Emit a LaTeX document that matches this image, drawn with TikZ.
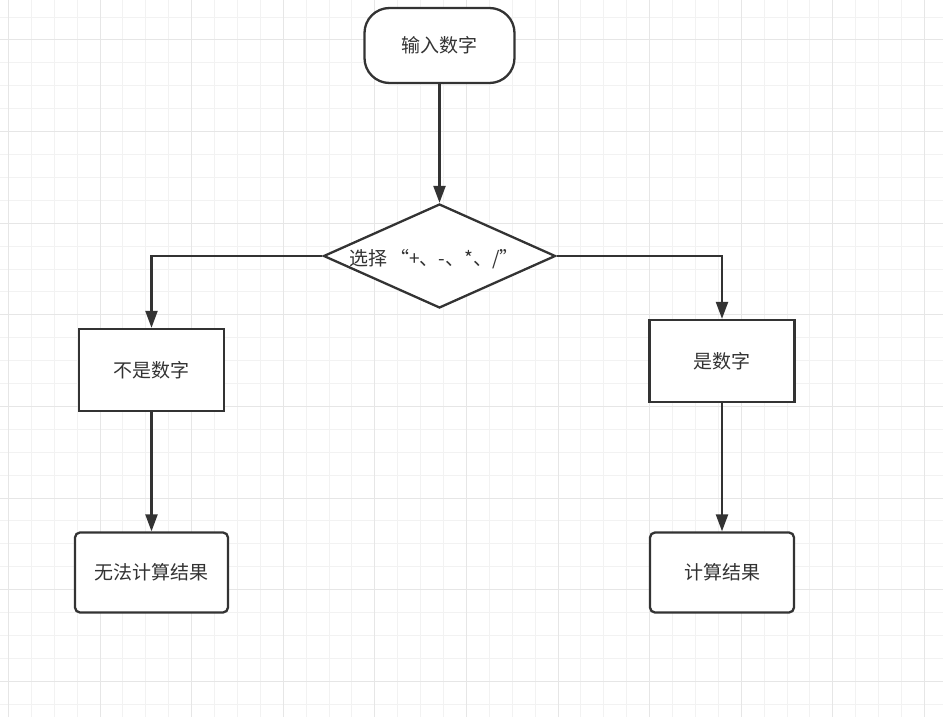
\documentclass[tikz,border=0pt]{standalone}
\usepackage{fontspec}
\newfontfamily\cjk{Noto Sans CJK SC}
\usetikzlibrary{shapes.geometric,arrows.meta}
\definecolor{ink}{HTML}{333333}
\definecolor{minorgrid}{HTML}{F2F2F2}
\definecolor{majorgrid}{HTML}{E6E6E6}
\begin{document}
\begin{tikzpicture}[x=1pt, y=-1pt,
		box/.style={draw=ink, line width=2.3pt, fill=white, text=ink, font=\cjk\fontsize{19}{23}\selectfont, inner sep=0pt},
		terminal/.style={box, rounded corners=25pt, minimum width=150pt, minimum height=75pt},
		process/.style={box, minimum width=145pt, minimum height=82pt},
		result/.style={box, rounded corners=5pt, minimum width=153pt, minimum height=80pt},
		decision/.style={box, diamond, shape aspect=2.2, minimum width=232pt, minimum height=104pt},
		flow/.style={draw=ink, line width=2.3pt, -{Triangle[length=17pt, width=12pt]}}]
		\useasboundingbox (0,0) rectangle (943,717);
		\fill[white] (0,0) rectangle (943,717);
		\foreach \i in {0,...,40} \draw[minorgrid, line width=1pt] (8.4+\i*22.9, 0) -- (8.4+\i*22.9, 717);
		\foreach \j in {0,...,30} \draw[minorgrid, line width=1pt] (0, 17.1+\j*22.9) -- (943, 17.1+\j*22.9);
		\foreach \i in {0,...,10} \draw[majorgrid, line width=1pt] (8.4+\i*91.6, 0) -- (8.4+\i*91.6, 717);
		\foreach \j in {0,...,7} \draw[majorgrid, line width=1pt] (0, 40+\j*91.6) -- (943, 40+\j*91.6);
		\node[terminal] (input) at (439.5,45.5) {输入数字};
		\node[decision] (choose) at (439.5,256) {};
		\node[text=ink, font=\cjk\fontsize{19}{23}\selectfont] (op) at (434,259) {选择\,“+、-、*、/”};
		\node[process] (notnum) at (151.5,370) {不是数字};
		\node[process] (isnum) at (722,361) {是数字};
		\node[result] (fail) at (151.5,572.5) {无法计算结果};
		\node[result, minimum width=144pt] (calc) at (722,572.5) {计算结果};
		\draw[flow] (input) -- (choose);
		\draw[flow] (choose.west) -| (notnum);
		\draw[flow] (choose.east) -| (isnum);
		\draw[flow] (notnum) -- (fail);
		\draw[flow] (isnum) -- (calc);
	\end{tikzpicture}
\end{document}
